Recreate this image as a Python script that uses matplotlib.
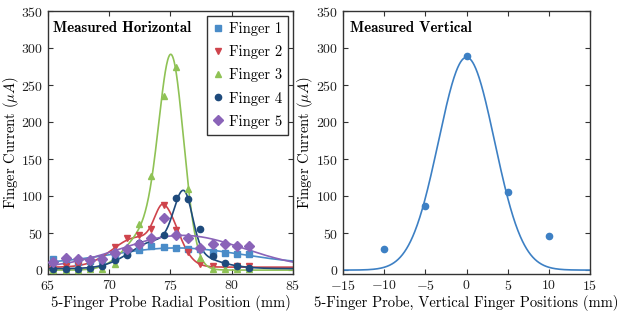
import numpy as np
import matplotlib
matplotlib.use("Agg")
import matplotlib.pyplot as plt

plt.rcParams['font.family'] = ['cmr10', 'DejaVu Sans']
plt.rcParams['mathtext.fontset'] = 'cm'
plt.rcParams['axes.formatter.use_mathtext'] = True
plt.rcParams['axes.unicode_minus'] = True

# ---------------- data ----------------
positions = [65.45 + k for k in range(17)]
finger_labels = ["Finger 1", "Finger 2", "Finger 3", "Finger 4", "Finger 5"]
finger1 = [15, 12, 11, 12, 13, 18, 23, 27, 33, 31, 30, 29, 28, 24, 23, 22, 22]
finger2 = [5, 5, 7, 9, 14, 31, 43, 47, 56, 88, 54, 24, 8, 6, 5, 6, 6]
finger3 = [0.5, 0.5, 0.5, 1, 2, 8, 25, 62, 128, 235, 275, 110, 16, 2, 1, 1, 1]
finger4 = [1, 1, 1.5, 2.5, 6, 13, 20, 36, 44, 47, 98, 96, 55, 19, 10, 5, 3]
finger5 = [11, 16, 14.5, 13.5, 15, 23, 29, 35, 43, 70, 48, 44, 30, 35, 35, 33, 32]

# fitted-curve parameters (offset + two split-Gaussian components)
fit_c   = [8, 4, 0, 2, 2]
fit_A1  = [22, 40, 55, 38, 45]
fit_m1  = [75.5, 72.3, 73.3, 74.0, 76.0]
fit_s1L = [5.26, 2.0, 1.8, 2.2, 5.0]
fit_s1R = [5.26, 2.0, 1.8, 3.0, 5.0]
fit_A2  = [0, 63, 258, 76, 0]
fit_m2  = [75, 74.5, 75.1, 76.1, 75]
fit_s2L = [1, 0.75, 1.0, 0.8, 1]
fit_s2R = [1, 1.15, 1.0, 0.7, 1]

vert_pos = [-10, -5, 0, 5, 10]
vert_cur = [28, 87, 290, 106, 46]
vert_fit_A, vert_fit_m, vert_fit_s = 288, 0.0, 3.4

colors = ['#4a8cc8', '#cf444c', '#8fc255', '#1e4a7c', '#8a63b8']
markers = ['s', 'v', '^', 'o', 'D']
msizes = [4.2, 4.5, 4.5, 4.5, 4.8]
vert_color = '#3d80c4'


def comp(x, A, m, sl, sr):
    s = np.where(x < m, sl, sr)
    return A * np.exp(-(x - m) ** 2 / (2 * s ** 2))


fig = plt.figure(figsize=(6.23, 3.18), dpi=100)
ax1 = fig.add_axes([0.077, 0.139, 0.393, 0.825])
ax2 = fig.add_axes([0.5506, 0.139, 0.3965, 0.825])

fingers = [finger1, finger2, finger3, finger4, finger5]
xf = np.linspace(65, 85, 600)
for i, vals in enumerate(fingers):
    yf = fit_c[i] + comp(xf, fit_A1[i], fit_m1[i], fit_s1L[i], fit_s1R[i]) \
        + comp(xf, fit_A2[i], fit_m2[i], fit_s2L[i], fit_s2R[i])
    ax1.plot(xf, yf, color=colors[i], lw=1.2, zorder=2)
for i, vals in enumerate(fingers):
    ax1.plot(positions, vals, linestyle='none', marker=markers[i],
             ms=msizes[i], color=colors[i], mec=colors[i], label=finger_labels[i], zorder=3)

xv = np.linspace(-15, 15, 600)
ax2.plot(xv, comp(xv, vert_fit_A, vert_fit_m, vert_fit_s, vert_fit_s), color=vert_color, lw=1.2)
ax2.plot(vert_pos, vert_cur, linestyle='none', marker='o', ms=4.5, color=vert_color)

for ax in (ax1, ax2):
    ax.set_ylim(-5, 350)
    ax.set_yticks(np.arange(0, 351, 50))
    ax.tick_params(direction='in', top=True, right=True, length=3.5, width=0.8,
                   labelsize=10, pad=3.5, colors='#333333', labelcolor='#222222')
    for sp in ax.spines.values():
        sp.set_color('#333333')
        sp.set_linewidth(1.0)
    ax.set_ylabel(r"Finger Current ($\mu A$)", fontsize=10.5)

ax1.yaxis.set_label_coords(-0.112, 0.5)
ax2.yaxis.set_label_coords(-0.113, 0.5)

ax1.set_xlim(65, 85)
ax1.set_xticks([65, 70, 75, 80, 85])
ax1.set_xlabel("5-Finger Probe Radial Position (mm)", fontsize=10.5, labelpad=1.5)
ax2.set_xlim(-15, 15)
ax2.set_xticks([-15, -10, -5, 0, 5, 10, 15])
ax2.set_xlabel("5-Finger Probe, Vertical Finger Positions (mm)", fontsize=10.5, labelpad=1.5)

ax1.text(0.02, 0.965, "Measured Horizontal", transform=ax1.transAxes, va='top', ha='left',
         fontsize=10.8, family='cmb10')
ax2.text(0.03, 0.965, "Measured Vertical", transform=ax2.transAxes, va='top', ha='left',
         fontsize=10.8, family='cmb10')

leg = ax1.legend(loc='upper right', numpoints=1, fontsize=10.5, fancybox=False,
                 framealpha=1, edgecolor='#333333', borderaxespad=0.3,
                 handlelength=0.6, handletextpad=0.4, labelspacing=0.62, borderpad=0.45)
leg.get_frame().set_linewidth(1.0)

fig.savefig("out.png", dpi=100)
